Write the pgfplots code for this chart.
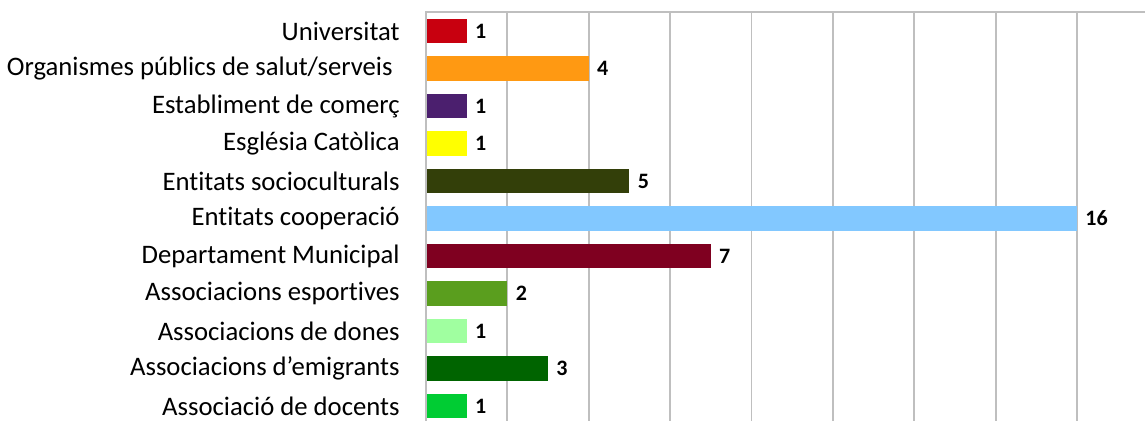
\documentclass[border=0pt]{standalone}
\usepackage{fontspec}
\setmainfont{Carlito}[Ligatures=NoCommon]
\usepackage{pgfplots}
\pgfplotsset{compat=1.18}
\definecolor{gridc}{RGB}{191,191,191}
\definecolor{c1}{RGB}{200,0,15}
\definecolor{c2}{RGB}{255,153,18}
\definecolor{c3}{RGB}{75,31,110}
\definecolor{c4}{RGB}{255,255,0}
\definecolor{c5}{RGB}{51,63,9}
\definecolor{c6}{RGB}{130,200,255}
\definecolor{c7}{RGB}{127,0,32}
\definecolor{c8}{RGB}{90,158,30}
\definecolor{c9}{RGB}{160,255,160}
\definecolor{c10}{RGB}{0,100,0}
\definecolor{c11}{RGB}{0,204,51}
\begin{document}
\begin{tikzpicture}
\path[use as bounding box] (0,0) rectangle (572.5pt,210.5pt);
\clip (0,0) rectangle (572.5pt,210.5pt);
\begin{axis}[
  at={(213pt,0pt)}, anchor=south west,
  scale only axis, width=359.5pt, height=204.375pt,
  xmin=0, xmax=17.67, ymin=-0.4, ymax=10.5,
  xbar, bar width=12.25pt,
  every axis plot/.append style={bar shift=0pt, draw=none},
  axis line style={draw=none},
  xtick={0,2,...,16}, xticklabels={},
  xmajorgrids, grid style={gridc, line width=0.9pt},
  major tick length=0pt,
  ytick={0,...,10},
  yticklabels={Associació de docents, Associacions d’emigrants, Associacions de dones, Associacions esportives, Departament Municipal, Entitats cooperació, Entitats socioculturals, Església Catòlica, Establiment de comerç, {Organismes públics de salut/serveis\hspace*{3.5pt}}, Universitat},
  yticklabel style={font=\fontsize{13.35}{15}\selectfont, inner sep=0pt, xshift=-13pt},
  /pgf/number format/assume math mode=true,
  nodes near coords,
  nodes near coords style={font=\bfseries\fontsize{11}{13}\selectfont, anchor=west, inner sep=0pt, xshift=4pt, black},
  clip=false,
]
\addplot[fill=c11] coordinates {(1,0)};
\addplot[fill=c10] coordinates {(3,1)};
\addplot[fill=c9] coordinates {(1,2)};
\addplot[fill=c8] coordinates {(2,3)};
\addplot[fill=c7] coordinates {(7,4)};
\addplot[fill=c6] coordinates {(16,5)};
\addplot[fill=c5] coordinates {(5,6)};
\addplot[fill=c4] coordinates {(1,7)};
\addplot[fill=c3] coordinates {(1,8)};
\addplot[fill=c2] coordinates {(4,9)};
\addplot[fill=c1] coordinates {(1,10)};
\draw[gridc, line width=0.9pt] (axis cs:0,-0.4) -- (axis cs:0,10.5) -- (axis cs:17.67,10.5);
\end{axis}
\end{tikzpicture}
\end{document}
